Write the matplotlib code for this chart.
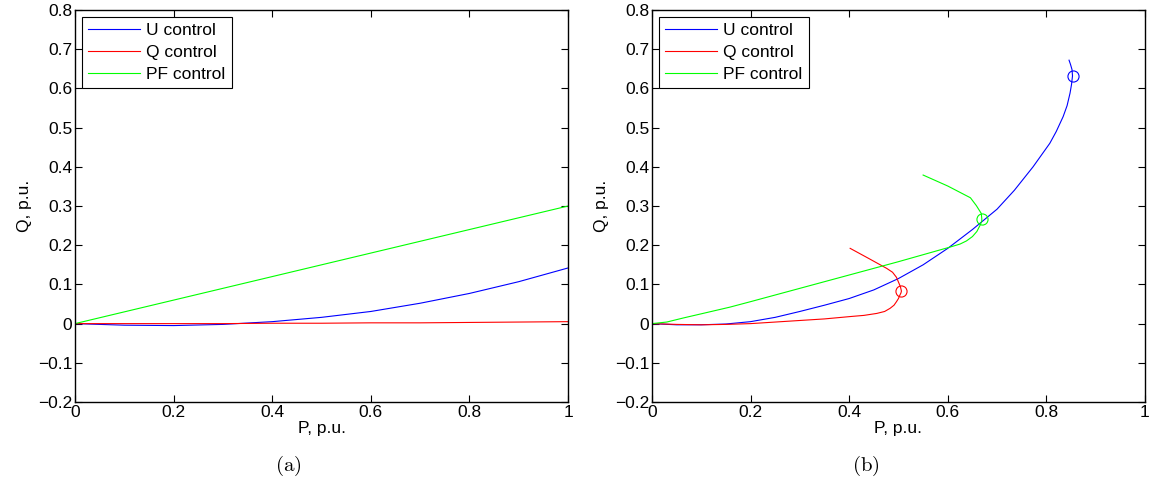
import matplotlib
matplotlib.use('Agg')
import matplotlib.pyplot as plt

plt.rcParams['font.family'] = 'sans-serif'
plt.rcParams['font.sans-serif'] = ['Liberation Sans', 'DejaVu Sans']
plt.rcParams['mathtext.fontset'] = 'cm'
plt.rcParams['axes.unicode_minus'] = True

# ============ ДАННЫЕ (a) ============
p_a = [0, 0.1, 0.2, 0.3, 0.4, 0.5, 0.6, 0.7, 0.8, 0.9, 1.0]
q_u_a = [0, -0.004, -0.005, -0.002, 0.005, 0.016, 0.031, 0.052, 0.077, 0.107, 0.142]
q_q_a = [0, 0, 0, 0, 0.001, 0.001, 0.002, 0.002, 0.003, 0.004, 0.005]
q_pf_a = [0, 0.03, 0.06, 0.09, 0.12, 0.15, 0.18, 0.21, 0.24, 0.27, 0.30]

# ============ ДАННЫЕ (b) ============
p_u_b = [0, 0.05, 0.1, 0.15, 0.2, 0.25, 0.3, 0.35, 0.4, 0.45, 0.5, 0.55, 0.6,
         0.65, 0.7, 0.735, 0.773, 0.79, 0.807, 0.82, 0.834, 0.842, 0.848,
         0.851, 0.853, 0.852, 0.849, 0.846]
q_u_b = [0, -0.003, -0.003, -0.001, 0.005, 0.016, 0.031, 0.047, 0.064, 0.086,
         0.115, 0.150, 0.192, 0.24, 0.292, 0.34, 0.40, 0.43, 0.46, 0.49, 0.528,
         0.556, 0.588, 0.61, 0.632, 0.648, 0.661, 0.672]

p_q_b = [0, 0.05, 0.1, 0.15, 0.2, 0.25, 0.3, 0.35, 0.402, 0.43, 0.456, 0.472,
         0.483, 0.491, 0.496, 0.500, 0.503, 0.505, 0.506, 0.504, 0.501, 0.496,
         0.488, 0.476, 0.44, 0.402]
q_q_b = [0, -0.002, -0.003, -0.002, 0.0, 0.004, 0.008, 0.012, 0.018, 0.021,
         0.026, 0.031, 0.039, 0.047, 0.056, 0.064, 0.073, 0.078, 0.083, 0.094,
         0.103, 0.118, 0.131, 0.141, 0.166, 0.192]

p_pf_b = [0, 0.03, 0.064, 0.1, 0.158, 0.2, 0.3, 0.4, 0.5, 0.604, 0.625, 0.638,
          0.65, 0.659, 0.666, 0.669, 0.669, 0.668, 0.658, 0.646, 0.600, 0.550]
q_pf_b = [0, 0.004, 0.0145, 0.025, 0.042, 0.056, 0.090, 0.124, 0.158, 0.195,
          0.203, 0.211, 0.222, 0.235, 0.252, 0.262, 0.268, 0.281, 0.301, 0.321,
          0.351, 0.379]

# рабочие точки (кружки)
op_p = [0.853, 0.506, 0.669]
op_q = [0.632, 0.083, 0.268]

labels = ['U control', 'Q control', 'PF control']
colors = ['#0000ff', '#ff0000', '#00ff00']

FS = 12.5


def style_axes(ax):
    ax.set_xlim(0, 1)
    ax.set_ylim(-0.2, 0.8)
    ax.set_xticks([0, 0.2, 0.4, 0.6, 0.8, 1])
    ax.set_xticklabels(['0', '0.2', '0.4', '0.6', '0.8', '1'])
    ax.set_yticks([-0.2, -0.1, 0, 0.1, 0.2, 0.3, 0.4, 0.5, 0.6, 0.7, 0.8])
    ax.set_yticklabels(['\u22120.2', '\u22120.1', '0', '0.1', '0.2', '0.3',
                        '0.4', '0.5', '0.6', '0.7', '0.8'])
    ax.tick_params(direction='in', length=5, width=0.8, top=True, right=True,
                   labelsize=FS, pad=2, colors='black')
    for s in ax.spines.values():
        s.set_linewidth(1.0)
    ax.set_xlabel('P, p.u.', fontsize=FS, labelpad=1)
    ax.set_ylabel('Q, p.u.', fontsize=FS, labelpad=4)
    leg = ax.legend(loc='upper left', fontsize=FS, handlelength=3.0,
                    handletextpad=0.35, labelspacing=0.38, borderpad=0.36,
                    borderaxespad=0.4, fancybox=False, framealpha=1,
                    edgecolor='black')
    leg.get_frame().set_linewidth(0.8)


fig = plt.figure(figsize=(11.49, 4.86), dpi=100)
ax1 = fig.add_axes([0.0653, 0.1728, 0.4291, 0.8066])
ax2 = fig.add_axes([0.5674, 0.1728, 0.4291, 0.8066])

for q, lab, c in zip([q_u_a, q_q_a, q_pf_a], labels, colors):
    ax1.plot(p_a, q, color=c, lw=0.8, label=lab)
style_axes(ax1)

for p, q, lab, c in zip([p_u_b, p_q_b, p_pf_b], [q_u_b, q_q_b, q_pf_b], labels, colors):
    ax2.plot(p, q, color=c, lw=0.8, label=lab)
for x, y, c in zip(op_p, op_q, colors):
    ax2.plot(x, y, 'o', mfc='none', mec=c, ms=8, mew=0.8)
style_axes(ax2)

fig.text(288 / 1149, 1 - 466 / 486, r'$\mathrm{(a)}$', fontsize=15, ha='center', va='center')
fig.text(866 / 1149, 1 - 466 / 486, r'$\mathrm{(b)}$', fontsize=15, ha='center', va='center')

fig.savefig('out.png', dpi=100)
